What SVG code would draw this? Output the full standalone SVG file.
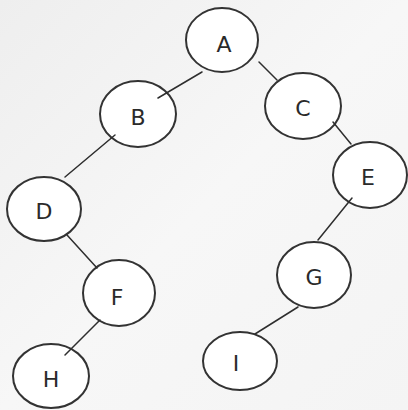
<svg xmlns="http://www.w3.org/2000/svg" width="408" height="410" viewBox="0 0 408 410">
  <style>
    .node ellipse { fill: #ffffff; stroke: #333333; stroke-width: 2; }
    .node text { font-family: "DejaVu Sans", Verdana, sans-serif; font-size: 22px; fill: #2a2a2a; text-anchor: middle; dominant-baseline: central; }
    #edges line { stroke: #2e2e2e; stroke-width: 1.5; stroke-linecap: round; }
  </style>
  <defs>
    <linearGradient id="paper" x1="0" y1="0" x2="1" y2="1">
      <stop offset="0" stop-color="#eeeeee"/>
      <stop offset="0.5" stop-color="#f7f7f7"/>
      <stop offset="1" stop-color="#f4f4f4"/>
    </linearGradient>
  </defs>
  <rect width="408" height="410" fill="url(#paper)"/>

  <!-- tree nodes -->
  <g id="node-A" class="node"><ellipse cx="222" cy="40" rx="36" ry="32"/><text x="224" y="44">A</text></g>
  <g id="node-B" class="node"><ellipse cx="138" cy="114" rx="38" ry="33"/><text x="138" y="117">B</text></g>
  <g id="node-C" class="node"><ellipse cx="303" cy="106" rx="38" ry="33"/><text x="303" y="108">C</text></g>
  <g id="node-D" class="node"><ellipse cx="44" cy="209" rx="37" ry="32"/><text x="44" y="211">D</text></g>
  <g id="node-E" class="node"><ellipse cx="370" cy="175" rx="37" ry="33"/><text x="368" y="177">E</text></g>
  <g id="node-F" class="node"><ellipse cx="119" cy="293" rx="36" ry="33"/><text x="117" y="297">F</text></g>
  <g id="node-G" class="node"><ellipse cx="314" cy="275" rx="37" ry="33"/><text x="314" y="277">G</text></g>
  <g id="node-H" class="node"><ellipse cx="51" cy="376" rx="38" ry="32"/><text x="51" y="379">H</text></g>
  <g id="node-I" class="node"><ellipse cx="240" cy="361" rx="37" ry="29"/><text x="236" y="363">I</text></g>

  <!-- tree edges, drawn over the node outlines -->
  <g id="edges">
    <line x1="202" y1="72" x2="158" y2="98"/>
    <line x1="259" y1="62" x2="277" y2="80"/>
    <line x1="115" y1="135" x2="65" y2="177"/>
    <line x1="333" y1="122" x2="351" y2="144"/>
    <line x1="67" y1="235" x2="97" y2="268"/>
    <line x1="352" y1="198" x2="318" y2="240"/>
    <line x1="100" y1="320" x2="65" y2="355"/>
    <line x1="298" y1="307" x2="255" y2="334"/>
  </g>
</svg>
